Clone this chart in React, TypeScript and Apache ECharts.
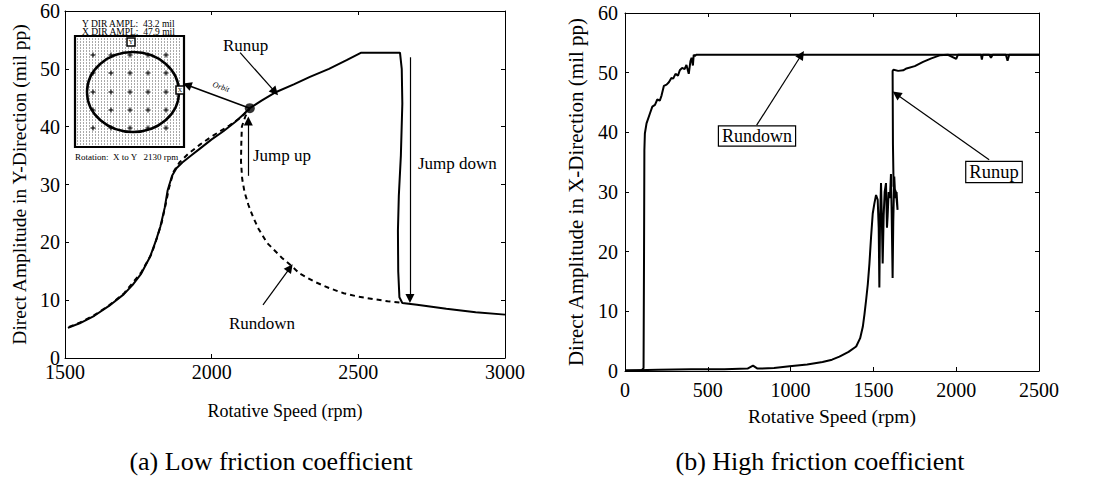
import React, { useEffect, useRef } from "react";
import * as echarts from "echarts";

const FONT = "'Liberation Serif', 'Times New Roman', serif";

// (a) Low friction coefficient
const lowRunupRpm = [1510, 1550, 1600, 1650, 1700, 1730, 1760, 1790, 1810, 1825, 1840, 1850, 1865, 1880, 1900, 1930, 1960, 2000, 2040, 2080, 2110, 2130, 2170, 2220, 2280, 2335, 2400, 2460, 2510, 2560, 2610, 2642, 2648, 2650, 2645, 2638, 2635, 2636, 2640, 2650, 2700, 2800, 2900, 3000];
const lowRunupAmp = [5.2, 6.0, 7.3, 9.0, 11.0, 12.6, 14.6, 17.5, 20.3, 22.7, 26.0, 29.0, 31.5, 32.8, 33.8, 35.0, 36.2, 37.8, 39.2, 40.8, 42.2, 43.2, 44.5, 46.0, 47.3, 48.6, 50.0, 51.5, 52.8, 52.8, 52.8, 52.8, 50.0, 44.0, 35.0, 28.0, 22.0, 15.0, 10.5, 9.5, 9.2, 8.5, 7.9, 7.5];
const lowRundownRpm = [2640, 2600, 2550, 2500, 2450, 2400, 2350, 2300, 2277, 2240, 2189, 2160, 2141, 2125, 2112, 2104, 2100, 2101, 2103, 2115, 2130, 2100, 2060, 2000, 1960, 1920, 1890, 1870, 1855, 1845, 1830, 1815, 1795, 1760, 1700, 1650, 1600, 1550, 1510];
const lowRundownAmp = [9.6, 9.8, 10.2, 10.6, 11.2, 12.1, 13.2, 14.6, 15.7, 17.3, 19.9, 22.3, 24.4, 26.5, 28.7, 31.0, 34.0, 37.0, 40.0, 41.8, 43.2, 41.6, 40.2, 38.3, 36.9, 35.3, 33.8, 32.2, 29.5, 27.0, 23.5, 21.0, 18.0, 14.8, 11.1, 9.1, 7.4, 6.1, 5.3];
const orbitRpm = [2130];
const orbitAmp = [43.2];

// (b) High friction coefficient
const highRundownRpm = [0, 100, 112, 115, 117, 120, 130, 151, 165, 181, 195, 210, 221, 235, 251, 265, 280, 291, 305, 320, 331, 345, 360, 371, 385, 395, 402, 410, 415, 422, 430, 2500];
const highRundownAmp = [0.1, 0.1, 0.5, 20, 37, 39.8, 41.5, 43.2, 44.3, 44.6, 45.5, 45.3, 46.2, 47.8, 48.0, 48.4, 49.1, 49.0, 49.8, 49.5, 50.4, 50.8, 50.6, 51.3, 49.8, 51.9, 52.5, 51.2, 53.0, 52.8, 53.0, 53.0];
const highRunupRpm = [0, 200, 400, 600, 740, 773, 800, 900, 994, 1100, 1193, 1250, 1295, 1350, 1396, 1420, 1436, 1446, 1456, 1466, 1476, 1486, 1496, 1506, 1516, 1526, 1532, 1536, 1540, 1546, 1550, 1556, 1562, 1568, 1576, 1582, 1586, 1592, 1600, 1606, 1610, 1616, 1620, 1626, 1632, 1640, 1646, 1636, 1622, 1618, 1616, 1622, 1650, 1680, 1700, 1750, 1800, 1850, 1900, 1950, 2000, 2010, 2150, 2155, 2160, 2200, 2210, 2220, 2300, 2310, 2320, 2500];
const highRunupAmp = [0.1, 0.2, 0.3, 0.3, 0.4, 0.9, 0.4, 0.5, 0.8, 1.1, 1.5, 1.9, 2.4, 3.2, 4.1, 5.5, 7.4, 9.5, 11.9, 14.5, 18.0, 22.5, 26.4, 28.1, 29.5, 28.7, 24.0, 14.0, 25.0, 31.5, 27.0, 18.0, 26.0, 30.0, 31.5, 24.0, 26.0, 30.0, 29.0, 33.0, 27.0, 15.6, 25.0, 32.6, 29.0, 30.0, 27.0, 30.0, 31.0, 38.0, 50.3, 50.5, 50.3, 50.4, 50.7, 51.1, 51.8, 52.4, 52.9, 53.0, 52.3, 53.0, 53.0, 52.2, 53.0, 53.0, 52.5, 53.0, 53.0, 52.0, 53.0, 53.0];

const captionA = "(a) Low friction coefficient";
const captionB = "(b) High friction coefficient";

const zip = (xs: number[], ys: number[]) => xs.map((x, i) => [x, ys[i]]);

const BLACK = "#000";

function xAxisDef(grid: number, min: number, max: number, pos: "bottom" | "top", opts: any) {
  return {
    type: "value",
    gridIndex: grid,
    min,
    max,
    interval: 500,
    position: pos,
    axisLine: { show: true, onZero: false, lineStyle: { color: BLACK, width: 1 } },
    axisTick: { show: true, inside: true, length: 4, lineStyle: { color: BLACK } },
    splitLine: { show: false },
    axisLabel:
      pos === "bottom"
        ? { show: true, color: BLACK, fontFamily: FONT, formatter: (v: number) => String(v), ...opts.label }
        : { show: false },
    ...(pos === "bottom"
      ? { name: "Rotative Speed (rpm)", nameLocation: "middle", nameGap: opts.nameGap, nameTextStyle: { color: BLACK, fontFamily: FONT, ...opts.name } }
      : {}),
  };
}

function yAxisDef(grid: number, pos: "left" | "right", title: string, opts: any) {
  return {
    type: "value",
    gridIndex: grid,
    min: 0,
    max: 60,
    interval: 10,
    position: pos,
    axisLine: { show: true, onZero: false, lineStyle: { color: BLACK, width: 1 } },
    axisTick: { show: true, inside: true, length: 4, lineStyle: { color: BLACK } },
    splitLine: { show: false },
    axisLabel:
      pos === "left"
        ? { show: true, color: BLACK, fontFamily: FONT, formatter: (v: number) => String(v), ...opts.label }
        : { show: false },
    ...(pos === "left"
      ? { name: title, nameLocation: "middle", nameGap: opts.nameGap, nameTextStyle: { color: BLACK, fontFamily: FONT, ...opts.name } }
      : {}),
  };
}

function arrow(from: number[], to: number[], width = 1.2) {
  return [
    { coord: from, symbol: "none", lineStyle: { color: BLACK, width, type: "solid" } },
    { coord: to, symbol: "triangle", symbolSize: 9 },
  ];
}

function insetGraphic() {
  const L = 75, T = 36, R = 184, B = 147;
  const els: any[] = [];
  els.push({ type: "rect", shape: { x: L, y: T, width: R - L, height: B - T }, style: { fill: "#fff", stroke: BLACK, lineWidth: 2.2 }, z: 10 });
  for (let y = T + 3; y < B - 1; y += 3) {
    els.push({ type: "line", shape: { x1: L + 2, y1: y, x2: R - 2, y2: y }, style: { stroke: "#555", lineWidth: 1, lineDash: [1, 2] }, z: 11 });
  }
  const cx = [93, 111, 130, 148, 166];
  const cy = [55, 73, 92, 110, 128];
  cx.forEach((x) =>
    cy.forEach((y) => {
      els.push({ type: "line", shape: { x1: x - 2.5, y1: y, x2: x + 2.5, y2: y }, style: { stroke: "#111", lineWidth: 1.2 }, z: 12 });
      els.push({ type: "line", shape: { x1: x, y1: y - 2.5, x2: x, y2: y + 2.5 }, style: { stroke: "#111", lineWidth: 1.2 }, z: 12 });
    })
  );
  els.push({ type: "ellipse", shape: { cx: 133, cy: 92, rx: 46, ry: 40 }, style: { fill: "none", stroke: BLACK, lineWidth: 2.5 }, z: 13 });
  els.push({ type: "rect", shape: { x: 127, y: 38, width: 8, height: 8 }, style: { fill: "#fff", stroke: BLACK, lineWidth: 1.5 }, z: 14 });
  els.push({ type: "text", x: 131, y: 42, style: { text: "Y", font: `6px ${FONT}`, fill: BLACK, align: "center", verticalAlign: "middle" }, z: 15 });
  els.push({ type: "rect", shape: { x: 176, y: 86, width: 8, height: 8 }, style: { fill: "#fff", stroke: BLACK, lineWidth: 1.5 }, z: 14 });
  els.push({ type: "text", x: 180, y: 90, style: { text: "X", font: `6px ${FONT}`, fill: BLACK, align: "center", verticalAlign: "middle" }, z: 15 });
  els.push({ type: "text", x: 82, y: 24, style: { text: "Y DIR AMPL:  43.2 mil", font: `9.5px ${FONT}`, fill: BLACK, verticalAlign: "middle" }, z: 15 });
  els.push({ type: "text", x: 82, y: 32, style: { text: "X DIR AMPL:  47.9 mil", font: `9.5px ${FONT}`, fill: BLACK, verticalAlign: "middle" }, z: 15 });
  els.push({ type: "text", x: 75, y: 157, style: { text: "Rotation:  X to Y   2130 rpm", font: `9px ${FONT}`, fill: BLACK, verticalAlign: "middle" }, z: 15 });
  return els;
}

export default function App() {
  const ref = useRef<HTMLDivElement>(null);
  useEffect(() => {
    if (!ref.current) return;
    const chart = echarts.init(ref.current, undefined, { renderer: "svg" });
    const txt = (x: number, y: number, text: string, size: number, align = "left", extra: any = {}) => ({
      type: "text",
      x,
      y,
      z: 20,
      style: { text, font: `${extra.style || ""} ${size}px ${FONT}`, fill: BLACK, align, verticalAlign: "middle", ...(extra.box || {}) },
      rotation: extra.rotation || 0,
    });
    const option: any = {
      animation: false,
      backgroundColor: "#fff",
      grid: [
        { left: 65, top: 11, width: 440, height: 347, show: false },
        { left: 625, top: 13, width: 414, height: 358, show: false },
      ],
      xAxis: [
        xAxisDef(0, 1500, 3000, "bottom", { label: { fontSize: 20, margin: 4 }, nameGap: 44, name: { fontSize: 18 } }),
        xAxisDef(0, 1500, 3000, "top", {}),
        xAxisDef(1, 0, 2500, "bottom", { label: { fontSize: 20, margin: 9 }, nameGap: 35, name: { fontSize: 19.5 } }),
        xAxisDef(1, 0, 2500, "top", {}),
      ],
      yAxis: [
        yAxisDef(0, "left", "Direct Amplitude in Y-Direction (mil pp)", { label: { fontSize: 20, margin: 5 }, nameGap: 36, name: { fontSize: 19.5 } }),
        yAxisDef(0, "right", "", {}),
        yAxisDef(1, "left", "Direct Amplitude in X-Direction (mil pp)", { label: { fontSize: 20, margin: 7 }, nameGap: 39, name: { fontSize: 21 } }),
        yAxisDef(1, "right", "", {}),
      ],
      series: [
        {
          name: "Runup (low)",
          type: "line",
          xAxisIndex: 0,
          yAxisIndex: 0,
          data: zip(lowRunupRpm, lowRunupAmp),
          showSymbol: false,
          symbol: "none",
          lineStyle: { color: BLACK, width: 2 },
          z: 3,
        },
        {
          name: "Rundown (low)",
          type: "line",
          xAxisIndex: 0,
          yAxisIndex: 0,
          data: zip(lowRundownRpm, lowRundownAmp),
          showSymbol: false,
          symbol: "none",
          lineStyle: { color: BLACK, width: 2, type: [5, 4] },
          z: 2,
        },
        {
          name: "Orbit point",
          type: "scatter",
          xAxisIndex: 0,
          yAxisIndex: 0,
          data: zip(orbitRpm, orbitAmp),
          symbolSize: 10,
          itemStyle: { color: BLACK },
          z: 5,
          markLine: {
            silent: true,
            animation: false,
            label: { show: false },
            symbol: ["none", "triangle"],
            symbolSize: 9,
            lineStyle: { color: BLACK, width: 1.2, type: "solid" },
            data: [
              arrow([2097, 52.8], [2216, 46.0]),
              arrow([2130, 43.2], [1916, 47.2], 1.6),
              arrow([2125, 31.5], [2125, 41.0]),
              arrow([2676, 52.0], [2676, 10.3]),
              arrow([2175, 9.2], [2267, 15.6]),
            ],
          },
        },
        {
          name: "Rundown (high)",
          type: "line",
          xAxisIndex: 2,
          yAxisIndex: 2,
          data: zip(highRundownRpm, highRundownAmp),
          showSymbol: false,
          symbol: "none",
          lineStyle: { color: BLACK, width: 2 },
          markLine: {
            silent: true,
            animation: false,
            label: { show: false },
            symbol: ["none", "triangle"],
            symbolSize: 9,
            lineStyle: { color: BLACK, width: 1.2, type: "solid" },
            data: [arrow([795, 41.2], [1066, 53.0]), arrow([2199, 35.4], [1639, 46.4])],
          },
        },
        {
          name: "Runup (high)",
          type: "line",
          xAxisIndex: 2,
          yAxisIndex: 2,
          data: zip(highRunupRpm, highRunupAmp),
          showSymbol: false,
          symbol: "none",
          lineStyle: { color: BLACK, width: 2 },
        },
      ],
      graphic: [
        ...insetGraphic(),
        txt(223, 45, "Runup", 17),
        txt(253, 155, "Jump up", 17),
        txt(418, 163, "Jump down", 17),
        txt(262, 323, "Rundown", 17, "center"),
        txt(221, 87, "Orbit", 8, "center", { style: "italic", rotation: -0.33 }),
        txt(757, 136, "Rundown", 18, "center", { box: { backgroundColor: "#fff", borderColor: BLACK, borderWidth: 1.2, padding: [1, 3, 0, 3] } }),
        txt(994, 172, "Runup", 18.5, "center", { box: { backgroundColor: "#fff", borderColor: BLACK, borderWidth: 1.2, padding: [1, 3, 0, 3] } }),
        txt(271, 461, captionA, 26, "center"),
        txt(820, 461, captionB, 26, "center"),
      ],
    };
    chart.setOption(option);
    return () => chart.dispose();
  }, []);
  return <div ref={ref} style={{ position: "fixed", left: 0, top: 0, width: 1112, height: 477, background: "#fff" }} />;
}
